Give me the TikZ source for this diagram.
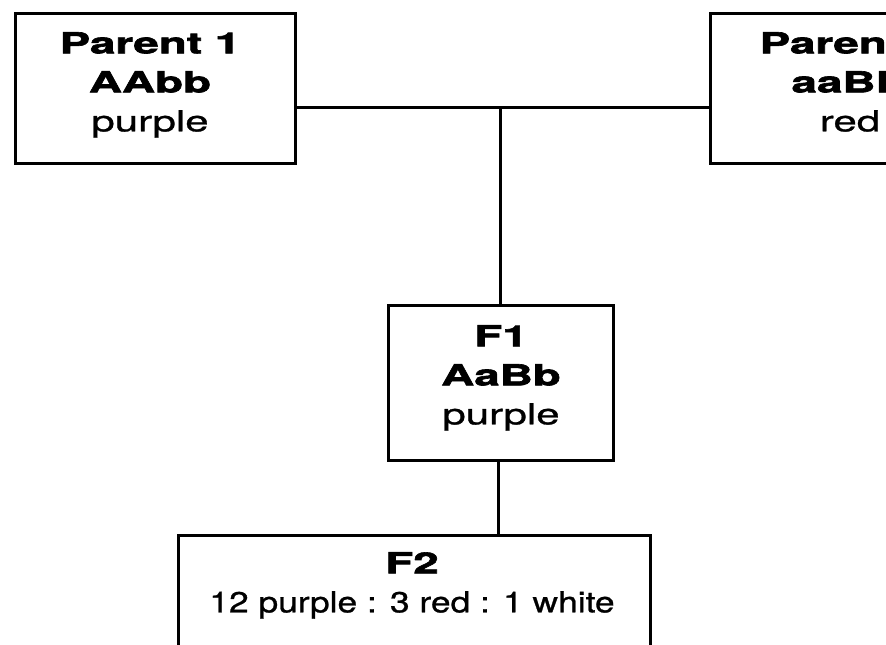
\documentclass[tikz,border=0pt]{standalone}
\usepackage{fontspec}
\setmainfont{TeX Gyre Heros}
\newfontfamily\wideb[FakeStretch=1.58,FakeBold=2.2]{TeX Gyre Heros Bold}
\newfontfamily\wider[FakeStretch=1.45,FakeBold=1.0]{TeX Gyre Heros}
\newfontfamily\widef[FakeStretch=1.22,FakeBold=0.9]{TeX Gyre Heros}
\begin{document}
\begin{tikzpicture}[x=1pt,y=-1pt,
  box/.style={draw, line width=3pt, inner sep=0pt},
  lbl/.style={font=\fontsize{29}{39}\selectfont, align=center, inner sep=0pt, anchor=north},
  wire/.style={line width=3pt}]
\useasboundingbox (0,0) rectangle (886,645);
\clip (0,0) rectangle (886,645);
% boxes
\node[box, minimum width=280pt, minimum height=150pt] (p1) at (155,88) {};
\node[box, minimum width=280pt, minimum height=150pt] (p2) at (850,88) {};
\node[box, minimum width=225pt, minimum height=155pt] (f1) at (501,382.5) {};
\node[box, minimum width=472pt, minimum height=160pt] (f2) at (414,615) {};
% texts
\node[lbl] (p1t) at (150,32) {{\wideb Parent 1}\\{\wideb AAbb}\\{\wider purple}};
\node[lbl] (p2t) at (850,32) {{\wideb Parent 2}\\{\wideb aaBB}\\{\wider red}};
\node[lbl] (f1t) at (501,325) {{\wideb F1}\\{\wideb AaBb}\\{\wider purple}};
\node[lbl] (f2t) at (412,552) {{\wideb F2}\\{\widef 12 purple : 3 red : 1 white}};
% connectors
\coordinate (j) at (500,107);
\draw[wire] (p1.east |- j) -- (p2.west |- j);
\draw[wire] (j) -- (j |- f1.north);
\draw[wire] ([xshift=-3pt]f1.south) -- ([xshift=-3pt]f1.south |- f2.north);
\end{tikzpicture}
\end{document}
